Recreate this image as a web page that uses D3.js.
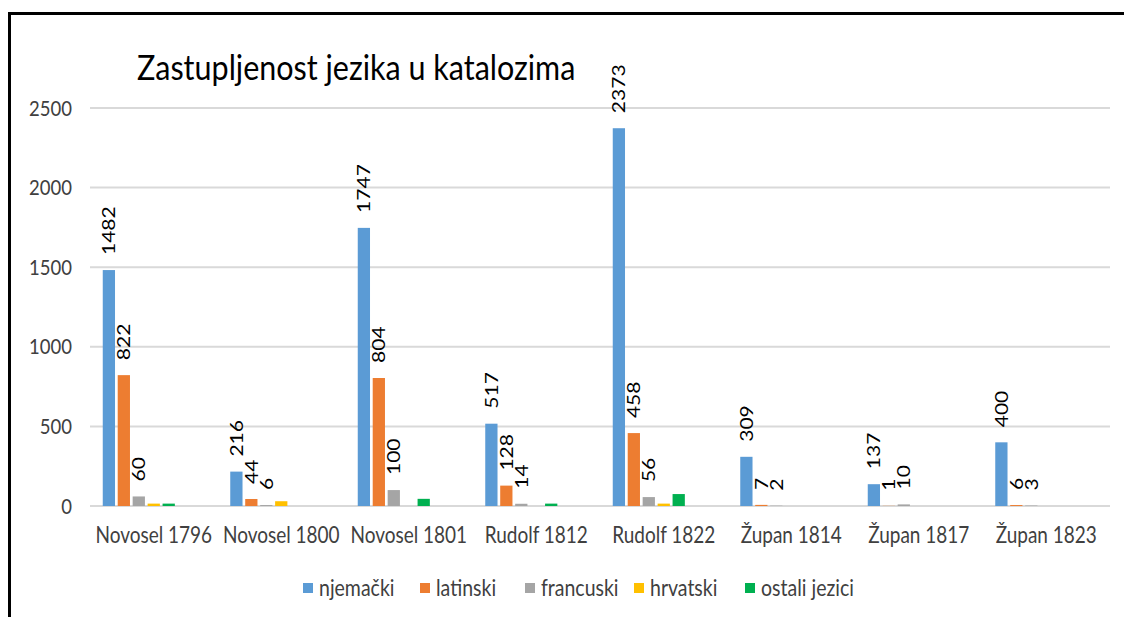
<!DOCTYPE html>
<html lang="hr">
<head>
<meta charset="UTF-8">
<script src="https://d3js.org/d3.v7.min.js"></script>
<title>Zastupljenost jezika u katalozima</title>
<style>
  body { margin: 0; background: #fff; }
  text { font-family: Lato, "Open Sans", sans-serif; }
</style>
</head>
<body>
<div id="chart"></div>
<script>
// data
var catalogues = ["Novosel 1796", "Novosel 1800", "Novosel 1801", "Rudolf 1812",
                  "Rudolf 1822", "Župan 1814", "Župan 1817", "Župan 1823"];
var languages = ["njemački", "latinski", "francuski", "hrvatski", "ostali jezici"];
var njemacki  = [1482, 216, 1747, 517, 2373, 309, 137, 400];
var latinski  = [822, 44, 804, 128, 458, 7, 1, 6];
var francuski = [60, 6, 100, 14, 56, 2, 10, 3];
var hrvatski  = [15, 30, 0, 0, 15, 0, 0, 0];
var ostali    = [15, 0, 45, 15, 75, 0, 0, 0];
var yTicks = [0, 500, 1000, 1500, 2000, 2500];
var colors = ["#5B9BD5", "#ED7D31", "#A5A5A5", "#FFC000", "#00B050"];
var labelled = [true, true, true, false, false]; // only first three series carry labels

var series = [njemacki, latinski, francuski, hrvatski, ostali];

var W = 1124, H = 617;
var margin = {left: 90, right: 14, top: 108, bottom: 111};
var stretch = 1.17; // the original picture is a little taller than wide

var svg = d3.select("#chart").append("svg")
    .attr("width", W).attr("height", H);

// frame (only the left and top edges are visible)
svg.append("path")
    .attr("d", "M9.5,617 V13.5 H1124")
    .attr("fill", "none").attr("stroke", "#000").attr("stroke-width", 3);

var x = d3.scaleBand().domain(catalogues).range([margin.left, W - margin.right]);
// Excel reserves room for 7 series slots, 5 are used
var xs = d3.scaleBand().domain(d3.range(7))
    .range([12.75, x.bandwidth() - 12.75]).paddingInner(0.18);
var y = d3.scaleLinear().domain([0, 2500]).range([H - margin.bottom, margin.top]);

// grid
svg.append("g").selectAll("line").data(yTicks).join("line")
    .attr("x1", margin.left).attr("x2", W - margin.right)
    .attr("y1", d => y(d)).attr("y2", d => y(d))
    .attr("stroke", "#d9d9d9").attr("stroke-width", 2);

// y labels
svg.append("g").selectAll("text").data(yTicks).join("text")
    .attr("transform", d => "translate(72," + y(d) + ") scale(1," + stretch + ")")
    .attr("text-anchor", "end").attr("dy", "0.35em")
    .attr("font-size", 18.5).attr("fill", "#404040")
    .text(d => d);

// x labels
svg.append("g").selectAll("text").data(catalogues).join("text")
    .attr("transform", d => "translate(" + (x(d) + x.bandwidth() / 2) + ",535) scale(1," + stretch + ")")
    .attr("text-anchor", "middle").attr("dy", "0.35em")
    .attr("font-size", 19).attr("fill", "#404040")
    .text(d => d);

// bars
var cells = [];
series.forEach(function (vals, s) {
  vals.forEach(function (v, i) {
    cells.push({cat: catalogues[i], s: s, v: v});
  });
});

svg.append("g").selectAll("rect").data(cells.filter(d => d.v > 0)).join("rect")
    .attr("x", d => x(d.cat) + xs(d.s))
    .attr("width", xs.bandwidth())
    .attr("y", d => y(d.v))
    .attr("height", d => y(0) - y(d.v))
    .attr("fill", d => colors[d.s]);

// value labels, rotated
svg.append("g").selectAll("text").data(cells.filter(d => labelled[d.s])).join("text")
    .attr("transform", d => "translate(" + (x(d.cat) + xs(d.s) + xs.bandwidth() / 2) + "," + (y(d.v) - 15) +
          ") rotate(-90) scale(" + stretch + ",1)")
    .attr("dy", "0.35em")
    .attr("font-family", "Liberation Sans, Arial, sans-serif")
    .attr("font-size", 18).attr("fill", "#000")
    .text(d => d.v);

// title
svg.append("text")
    .attr("transform", "translate(137,68) scale(1," + stretch + ")")
    .attr("dy", "0.35em")
    .attr("font-size", 30.5).attr("fill", "#000")
    .text("Zastupljenost jezika u katalozima");

// legend
var legX = [303, 420, 525, 634, 745];
var leg = svg.append("g").selectAll("g").data(languages).join("g")
    .attr("transform", (d, i) => "translate(" + legX[i] + ",588)");
leg.append("rect").attr("x", 0).attr("y", -5).attr("width", 10).attr("height", 10)
    .attr("fill", (d, i) => colors[i]);
leg.append("text")
    .attr("transform", "translate(16,0) scale(1," + stretch + ")")
    .attr("dy", "0.35em").attr("font-size", 19.5).attr("fill", "#404040")
    .text(d => d);
</script>
</body>
</html>
